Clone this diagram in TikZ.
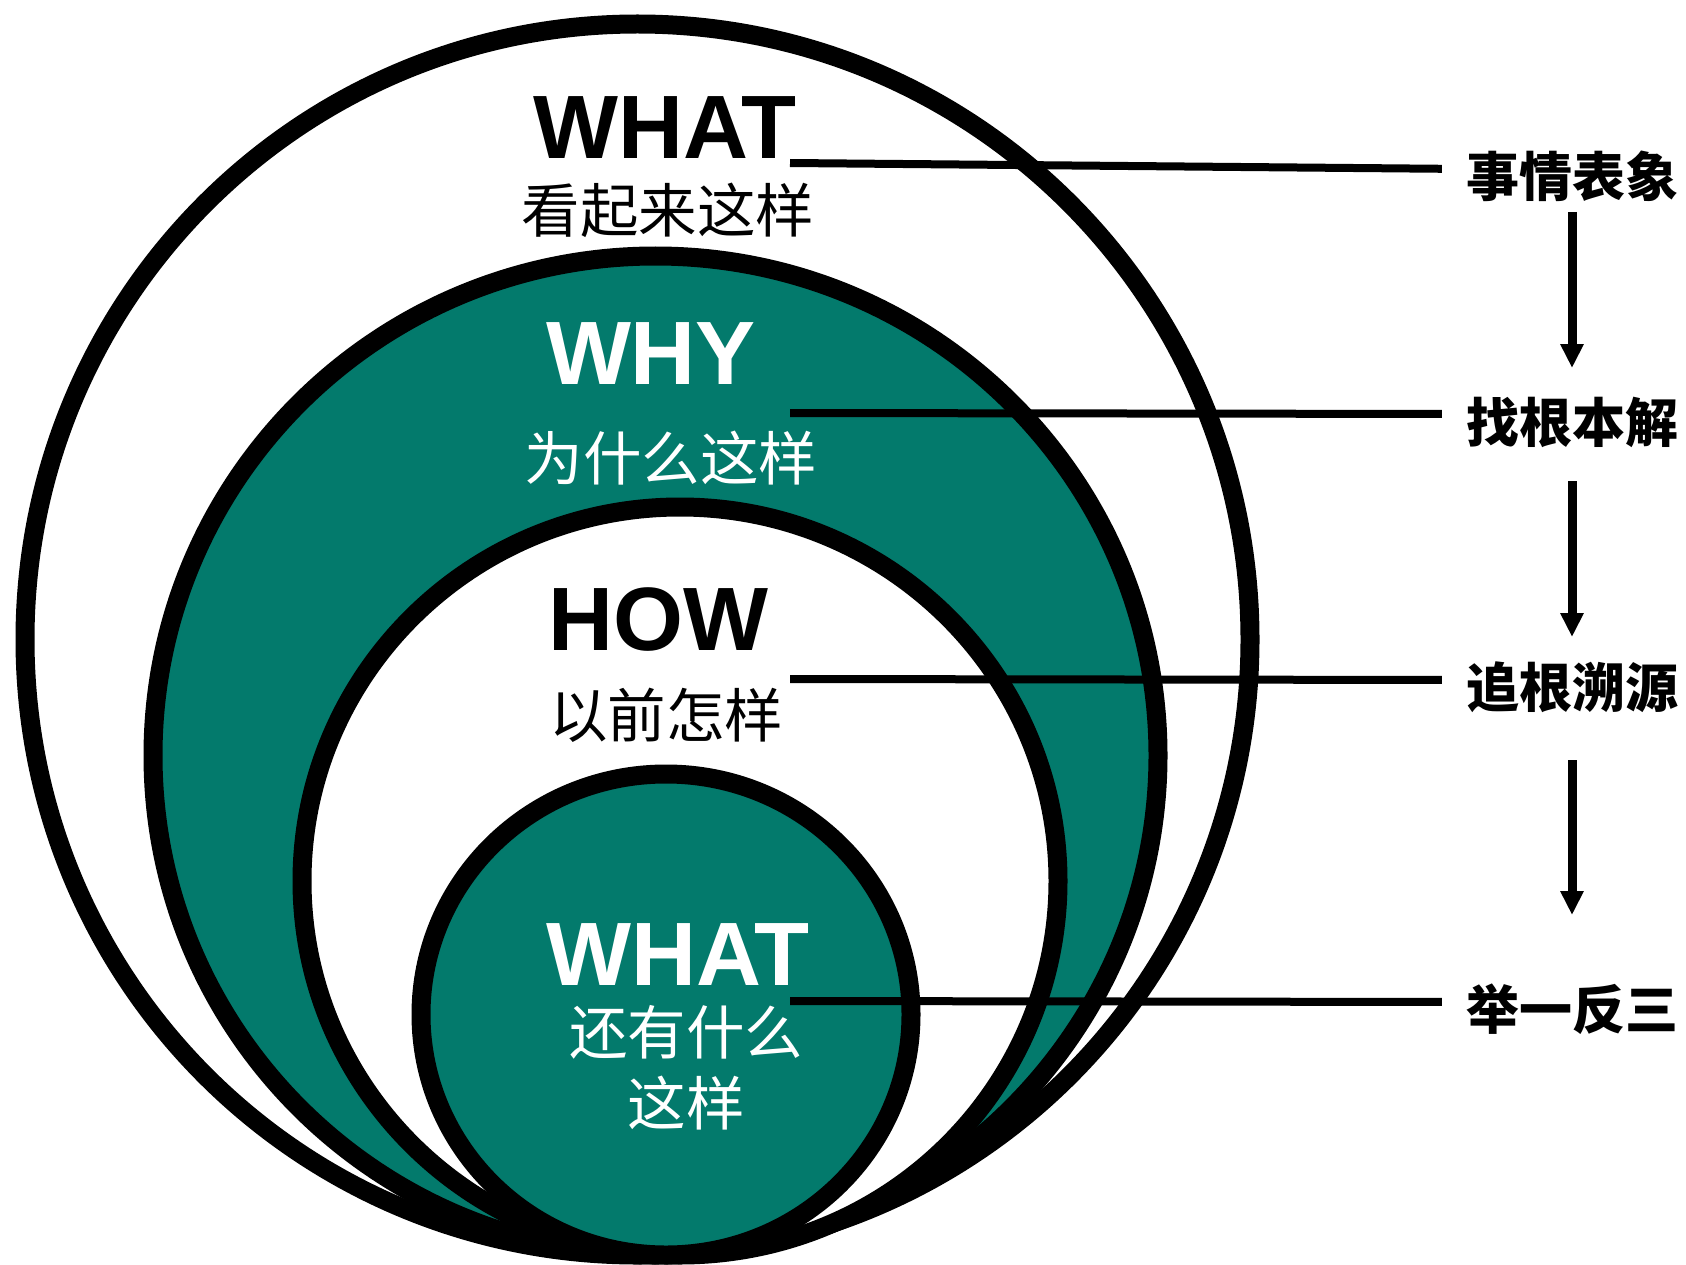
\documentclass[tikz,border=0pt]{standalone}
\usepackage{fontspec}
\usepackage{graphicx}
\setmainfont{Liberation Sans}
\newfontfamily\cjk{Noto Sans CJK SC}
\usetikzlibrary{arrows.meta}
\definecolor{tealfill}{RGB}{3,122,108}
\tikzset{
  ring/.style={line width=19pt, draw=black},
  eng/.style={font=\fontsize{90}{90}\selectfont\bfseries, inner sep=0pt},
  zh/.style={font=\cjk\fontsize{58.5}{71}\selectfont, inner sep=0pt, align=center},
  side/.style={font=\cjk\bfseries\fontsize{53}{53}\selectfont, inner sep=0pt},
  link/.style={line width=8pt},
  flow/.style={line width=9pt, -{Triangle[width=22pt,length=24pt]}},
}
\begin{document}
\begin{tikzpicture}[x=1pt,y=-1pt]
\useasboundingbox (0,0) rectangle (1686,1265);
% nested circles
\filldraw[ring, fill=white]    (637.5,639.5) ellipse [x radius=612.5, y radius=615.5];
\filldraw[ring, fill=tealfill] (655.5,755.5) ellipse [x radius=502.5, y radius=499.5];
\filldraw[ring, fill=white]    (680,881)     ellipse [x radius=378, y radius=374];
\filldraw[ring, fill=tealfill] (666,1014.5)  ellipse [x radius=245, y radius=240.5];
% circle texts
\node[eng, text=black] (t1) at (665,128) {WHAT};
\node[zh, text=black] (t1c) at (668,210) {看起来这样};
\node[eng, text=white] (t2) at (651,354) {WHY};
\node[zh, text=white] (t2c) at (671,458) {为什么这样};
\node[eng, text=black] (t3) at (658,620) {HOW};
\node[zh, text=black] (t3c) at (666,715) {以前怎样};
\node[eng, text=white] (t4) at (678,955) {WHAT};
\node[zh, text=white] (t4c) at (686,1068) {还有什么\\这样};
% right labels
\node[side] (r1) at (1572,176) {事情表象};
\node[side] (r2) at (1572,422) {找根本解};
\node[side] (r3) at (1572,687) {追根溯源};
\node[side] (r4) at (1572,1009) {举一反三};
% line start points
\coordinate (w1) at (790,163);
\coordinate (w2) at (790,413);
\coordinate (w3) at (790,679);
\coordinate (w4) at (790,1001);
\draw[link, shorten >=24pt] (w1) -- ([yshift=7pt]r1.west);
\draw[link, shorten >=24pt] (w2) -- ([yshift=8pt]r2.west);
\draw[link, shorten >=24pt] (w3) -- ([yshift=7pt]r3.west);
\draw[link, shorten >=24pt] (w4) -- ([yshift=7pt]r4.west);
% flow arrows
\draw[flow, shorten <=36pt, shorten >=54pt] (r1.center) -- (r2.center);
\draw[flow, shorten <=59pt, shorten >=50pt] (r2.center) -- (r3.center);
\draw[flow, shorten <=73pt, shorten >=94pt] (r3.center) -- (r4.center);
\end{tikzpicture}
\end{document}
